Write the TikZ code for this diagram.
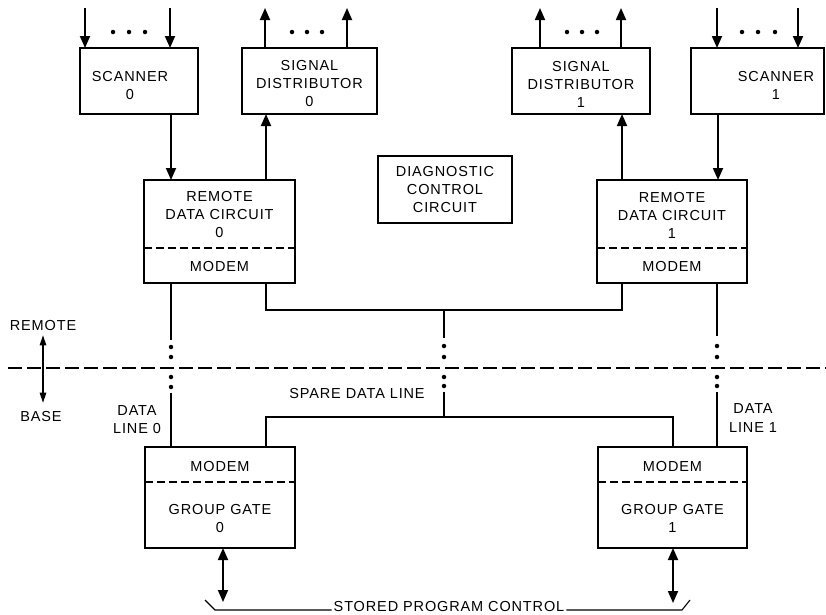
\documentclass[tikz,border=0pt]{standalone}
\usepackage{fontspec}
\newfontfamily\lblfont{Liberation Sans}[LetterSpace=6]
\usetikzlibrary{arrows.meta}
\begin{document}
\begin{tikzpicture}[x=1pt,y=-1pt,
  box/.style={draw, line width=1.3pt, inner sep=0pt, outer sep=0pt},
  txt/.style={font=\lblfont\fontsize{14.5}{18}\selectfont, align=center, inner sep=0pt},
  wire/.style={line width=1.8pt},
  arr/.style={wire, -{Triangle[length=12pt,width=10pt]}},
  darr/.style={wire, {Triangle[length=12pt,width=10pt]}-{Triangle[length=12pt,width=10pt]}},
  sidearr/.style={line width=1.1pt, {Triangle[length=10pt,width=6.5pt]}-{Triangle[length=10pt,width=6.5pt]}},
  dot/.style={circle, fill, inner sep=0pt, minimum size=4.5pt},
  split/.style={line width=1.1pt, dash pattern=on 8pt off 4pt},
  border/.style={line width=1.4pt, dash pattern=on 14pt off 5pt},
  bracket/.style={line width=1.1pt}]

\useasboundingbox (0,0) rectangle (826,614);

% ---------- blocks ----------
\node[box, minimum width=118pt, minimum height=66pt] (scan0) at (139,81) {};
\node[box, minimum width=135pt, minimum height=66pt] (sd0) at (309.5,81) {};
\node[box, minimum width=138pt, minimum height=66pt] (sd1) at (581,81) {};
\node[box, minimum width=133pt, minimum height=66pt] (scan1) at (757.5,81) {};
\node[box, minimum width=134pt, minimum height=67pt] (diag) at (445,189.5) {};
\node[box, minimum width=151pt, minimum height=103pt] (rdc0) at (219.5,231.5) {};
\node[box, minimum width=150pt, minimum height=103pt] (rdc1) at (672,231.5) {};
\node[box, minimum width=150pt, minimum height=101pt] (gg0) at (220,497.5) {};
\node[box, minimum width=149pt, minimum height=101pt] (gg1) at (672.5,497.5) {};

% modem partitions
\draw[split] ([yshift=35pt]rdc0.south west) -- ([yshift=35pt]rdc0.south east);
\draw[split] ([yshift=35pt]rdc1.south west) -- ([yshift=35pt]rdc1.south east);
\draw[split] ([yshift=-35pt]gg0.north west) -- ([yshift=-35pt]gg0.north east);
\draw[split] ([yshift=-35pt]gg1.north west) -- ([yshift=-35pt]gg1.north east);

% ---------- block texts ----------
\node[txt] (scan0t) at (130,85.5) {SCANNER\\0};
\node[txt] (sd0t) at (309.5,84) {SIGNAL\\DISTRIBUTOR\\0};
\node[txt] (sd1t) at (581,84) {SIGNAL\\DISTRIBUTOR\\1};
\node[txt] (scan1t) at (776,85.5) {SCANNER\\1};
\node[txt] (diagt) at (445,190) {DIAGNOSTIC\\CONTROL\\CIRCUIT};
\node[txt] (rdc0t) at (219.5,215) {REMOTE\\DATA CIRCUIT\\0};
\node[txt] (rdc0m) at (219.5,266) {MODEM};
\node[txt] (rdc1t) at (672,215) {REMOTE\\DATA CIRCUIT\\1};
\node[txt] (rdc1m) at (672,266) {MODEM};
\node[txt] (gg0m) at (220,466) {MODEM};
\node[txt] (gg0t) at (220,518) {GROUP GATE\\0};
\node[txt] (gg1m) at (672.5,466) {MODEM};
\node[txt] (gg1t) at (672.5,518) {GROUP GATE\\1};

% ---------- side labels ----------
\node[txt] (dl0) at (137,420) {DATA\\LINE 0};
\node[txt] (dl1) at (753,418) {DATA\\LINE 1};
\node[txt] (spare) at (357,393) {SPARE DATA LINE};
\node[txt] (remote) at (43,325) {REMOTE};
\node[txt] (base) at (41,416) {BASE};
\node[txt, anchor=base] (spc) at (449,611.5) {STORED PROGRAM CONTROL};

% ---------- scanner inputs and distributor outputs ----------
\coordinate (i0a) at (85,8);  \coordinate (i0b) at (170,8);
\coordinate (o0a) at (265,8); \coordinate (o0b) at (347,8);
\coordinate (o1a) at (540,8); \coordinate (o1b) at (621,8);
\coordinate (i1a) at (717,8); \coordinate (i1b) at (798,8);
\draw[arr] (i0a) -- (scan0.north -| i0a);
\draw[arr] (i0b) -- (scan0.north -| i0b);
\draw[arr] (sd0.north -| o0a) -- (o0a);
\draw[arr] (sd0.north -| o0b) -- (o0b);
\draw[arr] (sd1.north -| o1a) -- (o1a);
\draw[arr] (sd1.north -| o1b) -- (o1b);
\draw[arr] (i1a) -- (scan1.north -| i1a);
\draw[arr] (i1b) -- (scan1.north -| i1b);
\foreach \n/\x in {s1/113, s2/129, s3/145, t1/292, t2/307, t3/322,
                   u1/567, u2/582, u3/597, v1/742, v2/758, v3/775}
  \node[dot] (\n) at (\x,32) {};

% ---------- remote links ----------
\coordinate (xa) at (171,0);
\coordinate (xb) at (266,0);
\coordinate (xd) at (622,0);
\coordinate (xe) at (718,0);
\coordinate (xf) at (673,0);
\draw[arr] (scan0.south -| xa) -- (rdc0.north -| xa);
\draw[arr] (rdc0.north -| xb) -- (sd0.south -| xb);
\draw[arr] (rdc1.north -| xd) -- (sd1.south -| xd);
\draw[arr] (scan1.south -| xe) -- (rdc1.north -| xe);

% ---------- data line 0 ----------
\foreach \n/\y in {a1/347, a2/357, a3/377, a4/387}
  \node[dot] (\n) at (171,\y) {};
\draw[wire] (rdc0.south -| a1) -- ++(0,57);
\draw[wire] (gg0.north -| a1) -- ++(0,-54);

% ---------- spare data line ----------
\coordinate (jt) at (444,310);
\coordinate (jb) at (444,417);
\draw[wire] (rdc0.south -| xb) |- (jt) -| (rdc1.south -| xd);
\draw[wire] (jt) -- ++(0,28);
\foreach \n/\y in {b1/346, b2/357, b3/377, b4/386}
  \node[dot] (\n) at (444,\y) {};
\draw[wire] (jb) -- ++(0,-25);
\draw[wire] (gg0.north -| xb) |- (jb) -| (gg1.north -| xf);

% ---------- data line 1 ----------
\foreach \n/\y in {e1/346, e2/357, e3/377, e4/386}
  \node[dot] (\n) at (717,\y) {};
\draw[wire] (rdc1.south -| e1) -- ++(0,53);
\draw[wire] (gg1.north -| e1) -- ++(0,-55);

% ---------- remote / base boundary ----------
\coordinate (bl) at (8,368);
\coordinate (br) at (826,368);
\draw[border] (bl) -- (br);
\draw[sidearr, shorten <=5pt, shorten >=8pt] (remote.south) -- (remote.south |- base.north);

% ---------- stored program control ----------
\coordinate (p0) at (223,602);
\coordinate (p1) at (673,603);
\draw[darr] (gg0.south -| p0) -- (p0);
\draw[darr] (gg1.south -| p1) -- (p1);
\coordinate (k0) at (205,600);
\coordinate (k1) at (690,600);
\draw[bracket] (k0) -- ++(10,10) -- ([xshift=-2pt,yshift=1.5pt]spc.base west);
\draw[bracket] (k1) -- ++(-8,10) -- ([xshift=2pt,yshift=1.5pt]spc.base east);
\end{tikzpicture}
\end{document}
